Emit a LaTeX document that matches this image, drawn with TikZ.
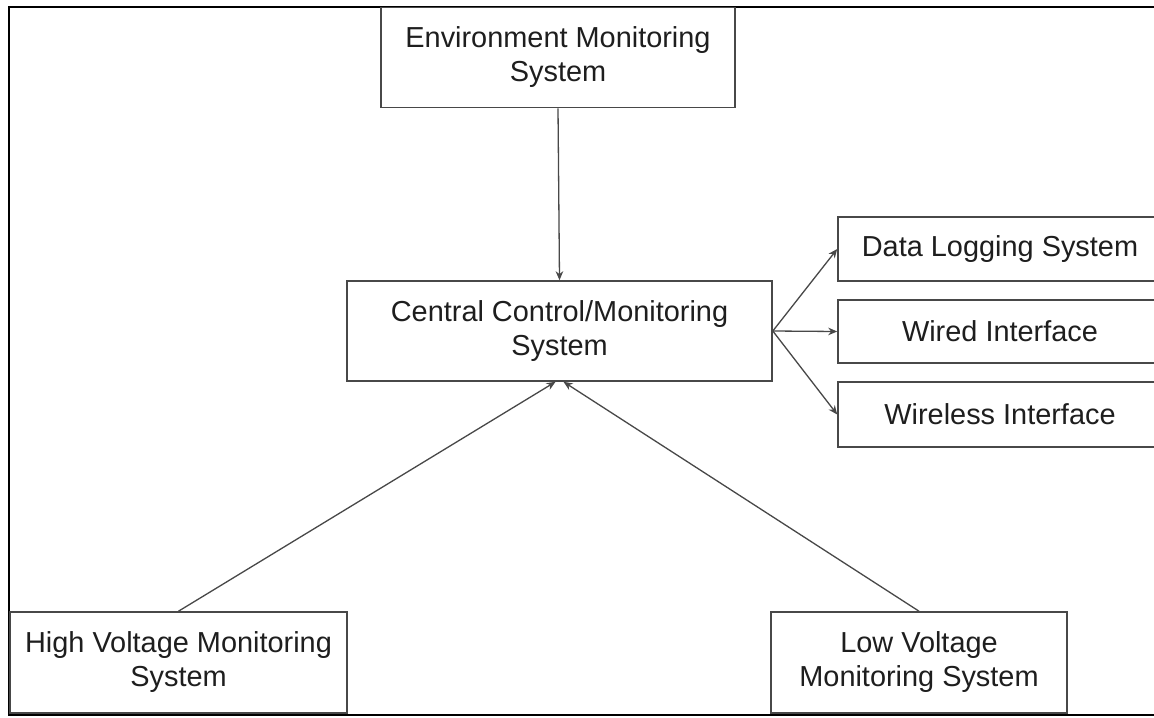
\documentclass[tikz,border=0pt]{standalone}
\usepackage{fontspec}
\setmainfont{Liberation Sans}
\usetikzlibrary{arrows.meta}
\definecolor{boxline}{HTML}{484848}
\definecolor{txt}{HTML}{1E1E1E}
\tikzset{
  block/.style={draw=boxline, line width=0.8pt, fill=white, align=center,
    inner sep=0pt, text=txt,
    font=\fontsize{14.45pt}{17pt}\selectfont},
  link/.style={draw=boxline, line width=0.65pt,
    -{Stealth[length=4.5pt,width=3.8pt]}},
}
\begin{document}
\begin{tikzpicture}[x=0.5pt,y=-0.5pt]
  \useasboundingbox (0,0) rectangle (1154,717);
  \clip (0,0) rectangle (1154,717);
  \fill[white] (0,0) rectangle (1154,717);

  % outer frame (open on the right)
  \draw[black, line width=1.1pt] (1160,7) -- (9,7) -- (9,715) -- (1160,715);

  % blocks
  \node[block, minimum width=177pt, minimum height=50pt] (env) at (558,57.5)
    {Environment Monitoring\\System};
  \node[block, minimum width=212.5pt, minimum height=50pt] (central) at (559.5,331)
    {Central Control/Monitoring\\System};
  \node[block, minimum width=162pt, minimum height=32pt] (log) at (1000,249)
    {Data Logging System};
  \node[block, minimum width=162pt, minimum height=31.5pt] (wired) at (1000,331.5)
    {Wired Interface};
  \node[block, minimum width=162pt, minimum height=32.5pt] (wireless) at (1000,414.5)
    {Wireless Interface};
  \node[block, minimum width=168.5pt, minimum height=50.5pt] (hv) at (178.5,662.5)
    {High Voltage Monitoring\\System};
  \node[block, minimum width=148pt, minimum height=50.5pt] (lv) at (919,662.5)
    {Low Voltage\\Monitoring System};

  % connectors
  \draw[link] (env.south) -- (central.north);
  \draw[link] (central.east) -- (log.west);
  \draw[link] (central.east) -- (wired.west);
  \draw[link] (central.east) -- (wireless.west);
  \draw[link] (hv.north) -- ([xshift=-2pt]central.south);
  \draw[link] (lv.north) -- ([xshift=2pt]central.south);
\end{tikzpicture}
\end{document}
